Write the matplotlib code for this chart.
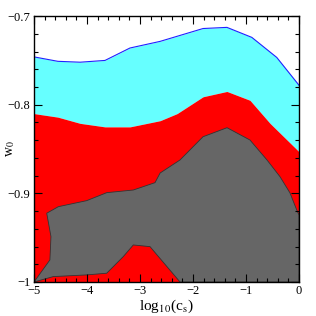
import numpy as np
import matplotlib
matplotlib.use("Agg")
import matplotlib.pyplot as plt
from matplotlib.ticker import MultipleLocator

plt.rcParams['font.family'] = ['Liberation Serif', 'DejaVu Serif']
plt.rcParams['mathtext.fontset'] = 'stix'

# Upper edge of the cyan region (blue line)
blue_x = [-5.0, -4.55, -4.13, -3.66, -3.19, -2.62, -1.81, -1.36, -0.89, -0.42, 0.0]
blue_y = [-0.746, -0.751, -0.752, -0.750, -0.736, -0.7285, -0.714, -0.7127, -0.724, -0.7466, -0.778]

# Upper edge of the red region
red_x = [-5.0, -4.55, -4.13, -3.66, -3.19, -2.62, -2.30, -1.81, -1.36, -0.925, -0.547, 0.0]
red_y = [-0.810, -0.814, -0.821, -0.825, -0.825, -0.818, -0.810, -0.791, -0.785, -0.795, -0.821, -0.853]

# Grey region outline
grey_x = [-5.0, -4.70, -4.68, -4.76, -4.54, -4.006, -3.628, -3.126, -2.717, -2.62, -2.245,
          -1.811, -1.358, -0.925, -0.604, -0.358, -0.17, -0.043, 0.0, 0.0, -2.245,
          -2.811, -3.126, -3.315, -3.628, -4.006, -4.636, -5.0]
grey_y = [-1.0, -0.9751, -0.9488, -0.9224, -0.915, -0.9082, -0.8992, -0.8962, -0.8879, -0.877, -0.8623,
          -0.8361, -0.8259, -0.8398, -0.8623, -0.8812, -0.8995, -0.9187, -0.9244, -1.0, -1.0,
          -0.9601, -0.9582, -0.9713, -0.9901, -0.992, -0.9939, -1.0]

fig = plt.figure(figsize=(3.16, 3.16), dpi=100)
ax = fig.add_axes([0.1076, 0.1076, 0.8386, 0.8414])

bx = np.array(blue_x); by = np.array(blue_y)
rx = np.array(red_x); ry = np.array(red_y)
xs = np.linspace(-5, 0, 400)
byi = np.interp(xs, bx, by)
ryi = np.interp(xs, rx, ry)

ax.fill_between(xs, ryi, byi, color='#66ffff', lw=0)
ax.fill_between(xs, -1.0, ryi, color='#ff0000', lw=0)
ax.plot(bx, by, color='#2020ff', lw=0.8)
ax.fill(grey_x, grey_y, facecolor='#666666', edgecolor='#333333', lw=0.6)

ax.set_xlim(-5, 0)
ax.set_ylim(-1.0, -0.7)
ax.xaxis.set_major_locator(MultipleLocator(1))
ax.xaxis.set_minor_locator(MultipleLocator(0.2))
ax.yaxis.set_major_locator(MultipleLocator(0.1))
ax.yaxis.set_minor_locator(MultipleLocator(0.02))
ax.tick_params(which='both', direction='in', top=True, right=True, labelsize=9, width=0.8, pad=2.5)
ax.tick_params(which='major', length=6)
ax.tick_params(which='minor', length=3)
ax.set_xticks([-5, -4, -3, -2, -1, 0])
ax.set_xticklabels(['\u22125', '\u22124', '\u22123', '\u22122', '\u22121', '0'])
ax.set_yticks([-1.0, -0.9, -0.8, -0.7])
ax.set_yticklabels(['\u22121', '\u22120.9', '\u22120.8', '\u22120.7'])
for s in ax.spines.values():
    s.set_linewidth(1.0)
ax.set_xlabel(r'log$_{10}$(c$_\mathrm{s}$)', fontsize=11, labelpad=0)
ax.set_ylabel(r'w$_0$', fontsize=10)
ax.yaxis.set_label_coords(-0.065, 0.5)

fig.savefig('out.png', dpi=100)
